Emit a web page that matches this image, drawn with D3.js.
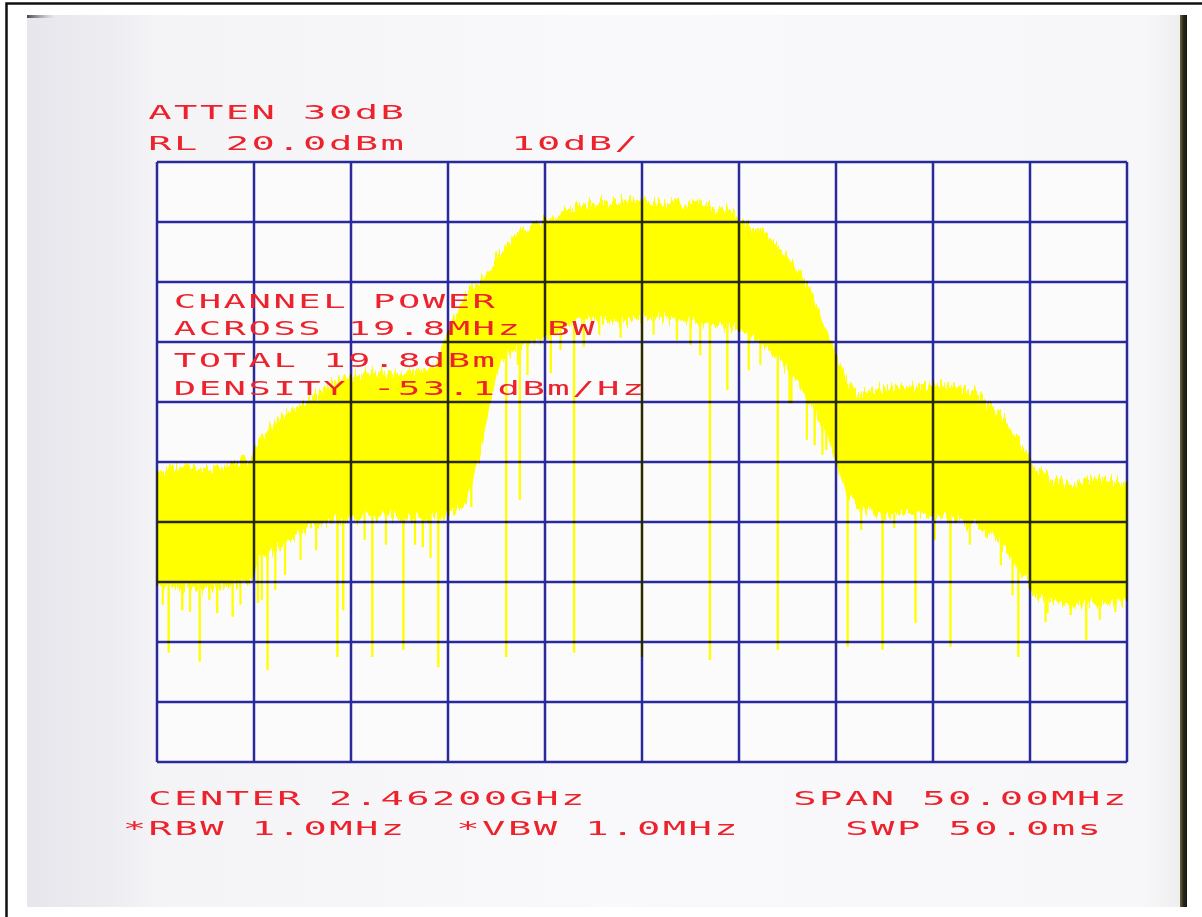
<!DOCTYPE html>
<html>
<head>
<meta charset="utf-8">
<script src="https://cdn.jsdelivr.net/npm/d3@7"></script>
<style>
  html, body { margin: 0; padding: 0; background: #ffffff; }
  svg { display: block; }
  .lbl text { font-family: "DejaVu Sans Mono", monospace; font-weight: 400; fill: #ec222c; }
</style>
</head>
<body>
<svg id="chart" width="1202" height="917"></svg>
<script>
// ---- Analyzer settings -------------------------------------------------
const centerGHz = 2.462;
const spanMHz = 50;          // full horizontal span
const refLevelDbm = 20;      // top graticule line
const dbPerDiv = 10;
const verticalDivs = 10;

// ---- Swept trace (offset from centre in MHz, level in dBm) -------------
// upper edge of the trace band
const traceTop = [
  [-25.0, -31.7], [-23.8, -31.3], [-22.8, -31.0], [-21.8, -30.7], [-20.7, -30.0],
  [-20.1, -29.3], [-19.9, -27.2], [-19.4, -25.0], [-18.7, -22.7], [-17.6, -20.5],
  [-16.6, -18.3], [-15.6, -16.3], [-14.5, -15.3], [-13.5, -15.0], [-12.5, -15.2],
  [-11.4, -14.7], [-10.6, -14.3], [-10.2, -9.7], [-9.6, -5.5], [-8.9, -1.3],
  [-8.2, 0.7], [-7.6, 3.3], [-7.0, 6.5], [-6.3, 8.2], [-5.3, 10.0],
  [-4.2, 11.7], [-3.2, 12.7], [-1.8, 13.2], [-0.1, 13.3], [1.6, 13.2],
  [3.0, 12.8], [4.4, 12.0], [5.1, 10.3], [5.9, 8.7], [6.8, 6.7],
  [7.6, 4.0], [8.4, 0.3], [8.9, -3.0], [9.3, -6.7], [9.8, -10.5],
  [10.2, -13.8], [10.6, -16.7], [11.1, -18.8], [11.9, -18.0], [13.3, -17.5],
  [14.8, -17.2], [16.4, -17.5], [17.2, -18.3], [17.8, -20.0], [18.5, -22.0],
  [19.0, -24.2], [19.5, -26.8], [19.8, -28.8], [20.3, -31.3], [20.8, -32.5],
  [21.5, -33.3], [22.6, -33.3], [23.6, -33.0], [25.0, -33.3]
];
// lower edge of the trace band
const traceBottom = [
  [-25.0, -50.5], [-23.8, -51.3], [-22.8, -51.0], [-21.2, -50.5], [-20.1, -49.7],
  [-19.9, -46.3], [-19.2, -45.0], [-18.1, -43.0], [-17.1, -40.5], [-15.6, -39.7],
  [-14.0, -38.8], [-12.5, -39.2], [-10.9, -39.7], [-9.9, -38.8], [-9.1, -36.3],
  [-8.4, -29.7], [-7.8, -19.7], [-7.3, -13.0], [-6.3, -10.5], [-5.3, -9.7],
  [-4.2, -8.0], [-3.2, -6.0], [-2.2, -6.3], [-1.1, -6.7], [-0.1, -6.0],
  [0.9, -5.8], [2.0, -6.3], [3.0, -6.8], [4.0, -7.2], [5.1, -8.0],
  [6.1, -10.0], [7.1, -13.0], [8.1, -17.2], [8.9, -21.3], [9.7, -26.3],
  [10.3, -33.0], [10.7, -36.3], [12.2, -38.8], [14.3, -38.5], [16.4, -39.7],
  [17.9, -41.8], [19.0, -45.5], [19.7, -49.3], [20.3, -52.7], [21.5, -53.5],
  [23.1, -53.8], [25.0, -53.0]
];
// deep drop-outs below the band
const traceDips = [
  [-24.4, -61.8], [-23.7, -54.7], [-22.8, -63.3], [-21.9, -55.2], [-21.1, -55.8],
  [-19.8, -53.5], [-19.3, -64.7], [-15.7, -62.5], [-15.4, -54.7], [-13.9, -62.5],
  [-12.3, -61.3], [-11.3, -44.2], [-10.5, -64.2], [-8.8, -37.5], [-7.0, -62.5],
  [-6.3, -36.3], [-4.7, -15.2], [-3.5, -61.8], [-3.0, -10.8], [0.0, -62.5],
  [1.8, -9.7], [3.5, -63.0], [4.4, -18.0], [5.5, -14.7], [7.0, -61.3],
  [7.7, -20.2], [8.9, -27.2], [10.6, -60.8], [12.4, -61.3], [14.1, -56.8],
  [15.9, -60.8], [19.4, -62.5], [20.9, -55.2], [22.9, -59.7]
];
// shorter ragged strands along the lower edge
const traceNotches = [
  [-24.7, -53.8], [-23.3, -55.0], [-22.3, -53.0], [-20.7, -53.8],
  [-19.6, -53.0], [-18.9, -51.3], [-18.4, -48.8], [-17.6, -46.3], [-16.8, -44.7],
  [-14.3, -43.0], [-13.2, -43.8], [-11.7, -43.8], [-10.9, -46.0],
  [-6.4, -13.8], [-5.9, -15.5], [-4.2, -11.3], [-2.2, -8.8], [-1.1, -9.3],
  [0.6, -8.8], [2.5, -10.5], [3.0, -12.2], [6.1, -13.8], [7.6, -20.2],
  [8.5, -26.3], [9.3, -28.8], [9.5, -28.0],
  [11.3, -41.3], [13.0, -41.0], [15.1, -43.0], [16.9, -43.8], [18.5, -47.2], [19.1, -52.2],
  [20.8, -56.7], [22.1, -55.5], [23.6, -56.3], [24.4, -55.0]
];

// ---- Screen annotations -------------------------------------------------
const headerText = ["ATTEN 30dB", "RL 20.0dBm", "10dB/"];
const markerText = ["CHANNEL POWER", "ACROSS 19.8MHz BW", "TOTAL 19.8dBm", "DENSITY -53.1dBm/Hz"];
const footerText = ["CENTER 2.46200GHz", "SPAN 50.00MHz", "*RBW 1.0MHz", "*VBW 1.0MHz", "SWP 50.0ms"];

// ------------------------------------------------------------------------
const svg = d3.select("#chart");
const W = 1202, H = 917;
const plot = { left: 157, top: 162, right: 1127, bottom: 762 };

const x = d3.scaleLinear().domain([-spanMHz / 2, spanMHz / 2]).range([plot.left, plot.right]);
const y = d3.scaleLinear()
  .domain([refLevelDbm - dbPerDiv * verticalDivs, refLevelDbm])
  .range([plot.bottom, plot.top]);

const defs = svg.append("defs");

// paper tone: scanned sheet, slightly greyer on the left strip
const paperGrad = defs.append("linearGradient").attr("id", "paper").attr("x1", 0).attr("x2", 1).attr("y1", 0).attr("y2", 0);
[[0, "#e6e6ec"], [0.07, "#ececf1"], [0.11, "#f4f4f7"], [0.5, "#f9f9fb"], [0.97, "#f7f7f9"], [1, "#eeeeef"]]
  .forEach(([o, c]) => paperGrad.append("stop").attr("offset", o).attr("stop-color", c));

const edgeGrad = defs.append("linearGradient").attr("id", "edge").attr("x1", 0).attr("x2", 1);
[[0, "#6a6440"], [0.5, "#2a2618"], [1, "#151515"]]
  .forEach(([o, c]) => edgeGrad.append("stop").attr("offset", o).attr("stop-color", c));

const cornerGrad = defs.append("linearGradient").attr("id", "corner").attr("x1", 0).attr("x2", 1);
[[0, "#222", 0.8], [1, "#888", 0]]
  .forEach(([o, c, a]) => cornerGrad.append("stop").attr("offset", o).attr("stop-color", c).attr("stop-opacity", a));

// fine vertical hair texture of the plotted sweep
const hair = defs.append("filter").attr("id", "hair")
  .attr("filterUnits", "userSpaceOnUse")
  .attr("x", plot.left - 2).attr("y", plot.top - 20)
  .attr("width", plot.right - plot.left + 4).attr("height", plot.bottom - plot.top + 40);
hair.append("feTurbulence").attr("type", "fractalNoise")
  .attr("baseFrequency", "0.42 0.003").attr("numOctaves", 2).attr("seed", 7).attr("result", "noise");
hair.append("feColorMatrix").attr("in", "noise").attr("type", "matrix")
  .attr("values", "0 0 0 0 0.5  0 1.6 0 0 -0.3  0 0 0 0 0  0 0 0 0 1").attr("result", "shift");
hair.append("feDisplacementMap").attr("in", "SourceGraphic").attr("in2", "shift")
  .attr("scale", 16).attr("xChannelSelector", "R").attr("yChannelSelector", "G");

// ---- page frame and paper ----------------------------------------------
svg.append("rect").attr("width", W).attr("height", H).attr("fill", "#ffffff");
svg.append("rect").attr("x", 27).attr("y", 15).attr("width", 1153).attr("height", 892).attr("fill", "url(#paper)");
svg.append("rect").attr("x", 1180).attr("y", 15).attr("width", 7).attr("height", 892).attr("fill", "url(#edge)");
svg.append("rect").attr("x", 27).attr("y", 15).attr("width", 28).attr("height", 3).attr("fill", "url(#corner)");
svg.append("path").attr("d", `M6.5,${H} V3.5 H${W}`).attr("fill", "none").attr("stroke", "#111").attr("stroke-width", 2.5);

// plot area
svg.append("rect").attr("x", plot.left).attr("y", plot.top)
  .attr("width", plot.right - plot.left).attr("height", plot.bottom - plot.top).attr("fill", "#fbfbfc");

// ---- trace ----------------------------------------------------------------
const yellow = "#ffff00";
const toXY = d3.line().x(d => x(d[0])).y(d => y(d[1]));
const bandPts = traceTop.concat(traceBottom.slice().reverse());

const traceG = svg.append("g").attr("filter", "url(#hair)");
traceG.append("path").attr("d", toXY(bandPts) + "Z").attr("fill", yellow).attr("stroke", yellow).attr("stroke-width", 1);

// strands hang from the lower edge of the band
const bis = d3.bisector(d => d[0]).left;
function bottomAt(f) {
  const i = Math.max(1, Math.min(traceBottom.length - 1, bis(traceBottom, f)));
  const a = traceBottom[i - 1], b = traceBottom[i];
  const t = (f - a[0]) / (b[0] - a[0]);
  return a[1] + (b[1] - a[1]) * t;
}
function strands(data, width) {
  svg.append("g").selectAll("line").data(data).join("line")
    .attr("x1", d => x(d[0])).attr("x2", d => x(d[0]))
    .attr("y1", d => y(Math.max(bottomAt(d[0]), d[1])) - 12)
    .attr("y2", d => y(d[1]))
    .attr("stroke", yellow).attr("stroke-width", width);
}
strands(traceNotches, 2.2);
strands(traceDips, 2.4);

// ---- graticule ------------------------------------------------------------
const gridG = svg.append("g").style("mix-blend-mode", "multiply")
  .attr("stroke", "#2a2a9e").attr("stroke-width", 2.5).attr("fill", "none");
gridG.selectAll("line.v").data(x.ticks(10)).join("line").attr("class", "v")
  .attr("x1", d => x(d)).attr("x2", d => x(d)).attr("y1", plot.top).attr("y2", plot.bottom);
gridG.selectAll("line.h").data(y.ticks(10)).join("line").attr("class", "h")
  .attr("x1", plot.left).attr("x2", plot.right).attr("y1", d => y(d)).attr("y2", d => y(d));

// ---- annotations: plotter lettering on a fixed character pitch -----------
function label(str, x0, base, pitch, size, sx) {
  const g = svg.append("g").attr("class", "lbl");
  g.selectAll("text").data(Array.from(str)).join("text")
    .attr("transform", (c, i) => `translate(${x0 + 10 + i * pitch},${base}) scale(${sx},1)`)
    .attr("text-anchor", "middle")
    .attr("font-size", size)
    .text(c => c);
}
const bigPitch = 25.8, smallPitch = 24.9;
label(headerText[0], 150, 119, bigPitch, 19.4, 2.0);
label(headerText[1], 150, 150, bigPitch, 19.4, 2.0);
label(headerText[2], 513, 150, bigPitch, 19.4, 2.0);

label(markerText[0], 175, 308, smallPitch, 18.6, 2.0);
label(markerText[1], 175, 335, smallPitch, 18.6, 2.0);
label(markerText[2], 175, 367, smallPitch, 18.6, 2.0);
label(markerText[3], 175, 395, smallPitch, 18.6, 2.0);

label(footerText[0], 150, 805, bigPitch, 19.4, 2.0);
label(footerText[1], 795, 805, bigPitch, 19.4, 2.0);
label(footerText[2], 124.5, 835, bigPitch, 19.4, 2.0);
label(footerText[3], 458, 835, bigPitch, 19.4, 2.0);
label(footerText[4], 847, 835, bigPitch, 19.4, 2.0);
</script>
</body>
</html>
